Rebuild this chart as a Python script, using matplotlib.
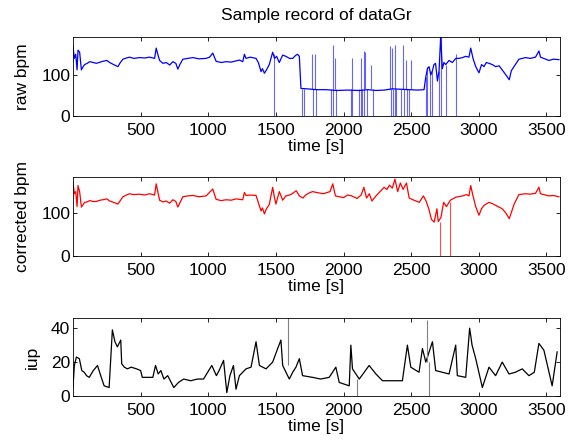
import numpy as np
import matplotlib
matplotlib.use('Agg')
import matplotlib.pyplot as plt

plt.rcParams['font.family'] = ['Liberation Sans', 'DejaVu Sans']

# raw heart rate (bpm)
raw_t = [0, 10, 20, 30, 37, 49, 62, 75, 86, 105, 123, 150, 172, 200, 221, 250, 271, 300, 332,
         350, 369, 395, 418, 450, 492, 530, 566, 590, 603, 615, 627, 640, 665, 689, 715, 738,
         760, 775, 790, 812, 850, 886, 930, 984, 1010, 1033, 1058, 1095, 1132, 1170, 1205,
         1230, 1255, 1267, 1279, 1310, 1353, 1370, 1390, 1400, 1415, 1430, 1451, 1476, 1490,
         1505, 1525, 1550, 1574, 1600, 1624, 1645, 1660, 1673, 1685, 1730, 1800, 1870, 1950,
         2030, 2116, 2180, 2240, 2300, 2360, 2420, 2485, 2550, 2595, 2608, 2620, 2632, 2645,
         2657, 2668, 2680, 2694, 2706, 2718, 2730, 2742, 2755, 2780, 2804, 2830, 2854, 2880,
         2903, 2927, 2940, 2957, 2977, 3001, 3020, 3038, 3055, 3075, 3100, 3124, 3150, 3173,
         3200, 3225, 3240, 3260, 3296, 3320, 3346, 3380, 3419, 3444, 3456, 3480, 3518, 3550,
         3592]
raw_v = [169, 140, 150, 112, 160, 155, 112, 120, 125, 128, 132, 130, 128, 131, 133, 135, 130, 125, 120,
         130, 138, 141, 143, 140, 142, 141, 143, 141, 140, 165, 150, 135, 128, 130, 124, 132,
         128, 114, 125, 138, 140, 142, 139, 140, 143, 153, 133, 130, 132, 131, 134,
         136, 132, 150, 140, 143, 140, 130, 108, 115, 104, 112, 125, 155, 140,
         145, 130, 148, 145, 140, 140, 147, 150, 145, 67, 66, 64, 64, 62,
         63, 62, 64, 62, 63, 66, 65, 64, 63, 64, 95, 115, 120, 100,
         110, 125, 128, 85, 110, 193, 115, 130, 125, 135, 130, 140, 140, 142,
         145, 143, 165, 140, 120, 105, 125, 120, 130, 128, 125, 120, 122, 112,
         100, 88, 110, 120, 138, 140, 142, 140, 143, 158, 143, 140, 135, 138,
         137]
# drop-outs to zero (time, level before the drop)
raw_drop_t = [1483, 1690, 1710, 1771, 1796, 1906, 1924, 1943, 2054, 2066, 2116, 2128, 2140, 2153,
              2177, 2214, 2349, 2362, 2381, 2391, 2423, 2448, 2472, 2485, 2608, 2620, 2637, 2657,
              2706, 2720, 2755, 2830]
raw_drop_v = [150, 65, 65, 65, 65, 65, 65, 65, 65, 65, 65, 65, 65, 65,
              65, 65, 65, 65, 65, 65, 65, 65, 65, 65, 95, 120, 110, 110,
              110, 193, 125, 150]
# upward spikes out of the low segment
raw_up_t = [1765, 1790, 1920, 1940, 2060, 2130, 2150, 2160, 2200, 2340, 2360, 2380, 2440, 2465, 2500]
raw_up_v = [150, 150, 173, 140, 140, 140, 157, 155, 125, 169, 165, 173, 173, 135, 135]

# corrected heart rate (bpm)
cor_t = [0, 10, 20, 30, 37, 49, 62, 86, 105, 123, 150, 172, 200, 221, 250, 271, 300, 332, 369,
         395, 418, 450, 492, 530, 566, 603, 615, 627, 640, 665, 689, 715, 738, 760, 775, 812,
         850, 886, 930, 984, 1033, 1058, 1095, 1132, 1170, 1205, 1255, 1267, 1279, 1310, 1353,
         1390, 1400, 1415, 1430, 1451, 1476, 1490, 1500, 1525, 1550, 1574, 1600, 1620, 1650,
         1673, 1700, 1720, 1740, 1770, 1800, 1850, 1900, 1920, 1940, 1970, 2000, 2030, 2060,
         2100, 2130, 2150, 2170, 2190, 2210, 2240, 2270, 2300, 2320, 2340, 2360, 2380, 2400,
         2420, 2440, 2465, 2485, 2520, 2560, 2590, 2610, 2630, 2650, 2670, 2690, 2700, 2720,
         2740, 2760, 2790, 2830, 2880, 2910, 2927, 2940, 2957, 2977, 3001, 3020, 3038, 3075,
         3100, 3124, 3173, 3200, 3225, 3260, 3296, 3346, 3380, 3419, 3444, 3456, 3518, 3550,
         3592]
cor_v = [171, 145, 150, 115, 164, 150, 114, 125, 126, 129, 127, 127, 130, 131, 133, 128, 125, 121, 138,
         142, 145, 143, 144, 142, 145, 142, 168, 150, 130, 126, 128, 123, 131, 127, 114, 138,
         140, 141, 138, 140, 156, 132, 129, 131, 130, 133, 131, 148, 141, 142, 141,
         105, 112, 98, 110, 120, 160, 135, 121, 150, 130, 140, 142, 145, 152,
         140, 135, 142, 146, 150, 148, 145, 150, 168, 140, 138, 136, 142, 140,
         134, 142, 160, 135, 145, 128, 140, 150, 160, 155, 165, 158, 179, 150,
         170, 155, 170, 135, 130, 125, 140, 128, 110, 85, 79, 110, 80, 90,
         125, 115, 130, 137, 140, 143, 140, 164, 140, 115, 95, 110, 118, 125,
         122, 118, 110, 100, 87, 120, 143, 145, 144, 146, 160, 145, 140, 141,
         138]
cor_drop_t = [2710, 2785]
cor_drop_v = [80, 125]

# intrauterine pressure
iup_t = [0, 10, 25, 47, 65, 83, 100, 120, 150, 181, 205, 230, 267, 291, 310, 328, 353, 360,
         380, 402, 430, 470, 500, 512, 560, 590, 610, 630, 650, 672, 700, 745, 780, 818, 870,
         920, 965, 1026, 1060, 1080, 1113, 1137, 1160, 1186, 1205, 1230, 1279, 1316, 1353,
         1378, 1427, 1476, 1513, 1537, 1550, 1599, 1624, 1648, 1673, 1697, 1771, 1830, 1894,
         1943, 1968, 2042, 2054, 2066, 2116, 2189, 2239, 2288, 2360, 2435, 2472, 2497, 2558,
         2583, 2608, 2657, 2681, 2730, 2780, 2829, 2841, 2903, 2932, 2950, 2977, 3026, 3075,
         3124, 3173, 3223, 3270, 3321, 3370, 3410, 3444, 3481, 3542, 3579]
iup_v = [5, 18, 23, 22, 15, 14, 12, 11, 15, 18, 12, 6, 5, 39, 32, 29, 33, 19,
         17, 16, 17, 16, 15, 11, 11, 11, 18, 13, 15, 10, 12, 5, 8, 10, 9,
         10, 10, 18, 12, 15, 21, 2, 12, 18, 4, 12, 16, 17, 32,
         18, 16, 20, 28, 33, 18, 10, 14, 17, 22, 12, 11, 10, 11,
         17, 8, 6, 30, 16, 10, 18, 13, 9, 9, 9, 30, 17, 14,
         28, 20, 32, 15, 14, 13, 30, 12, 11, 40, 30, 22, 5, 17,
         12, 20, 13, 14, 16, 12, 14, 31, 27, 6, 26]
iup_spike_t = [1587, 2103, 2620, 2632]
iup_spike_lo = [18, 0, 20, 0]
iup_spike_hi = [47, 10, 45, 20]

fig = plt.figure(figsize=(5.76, 4.46), dpi=100)
W, H = 576, 446
FS = 12.5


def make_ax(top, bottom):
    ax = fig.add_axes([73 / W, 1 - bottom / H, 487 / W, (bottom - top) / H])
    ax.set_xlim(0, 3600)
    ax.set_xticks([500, 1000, 1500, 2000, 2500, 3000, 3500])
    ax.tick_params(direction='in', top=True, right=True, labelsize=FS, length=3, width=0.6)
    ax.tick_params(axis='x', pad=5)
    ax.tick_params(axis='y', pad=2)
    for s in ax.spines.values():
        s.set_linewidth(0.6)
    ax.set_xlabel('time [s]', fontsize=FS, labelpad=1)
    return ax


ax1 = make_ax(37, 116)
ax1.plot(raw_t, raw_v, color='blue', lw=0.9)
ax1.vlines(raw_drop_t, 0, raw_drop_v, color='blue', lw=0.8, alpha=0.6)
ax1.vlines(raw_up_t, 65, raw_up_v, color='blue', lw=0.8, alpha=0.6)
ax1.set_ylim(0, 192)
ax1.set_yticks([0, 100])
ax1.set_ylabel('raw bpm', fontsize=FS, labelpad=8)
ax1.set_title('Sample record of dataGr', fontsize=FS, pad=12)

ax2 = make_ax(177, 256)
ax2.plot(cor_t, cor_v, color='red', lw=0.9)
ax2.vlines(cor_drop_t, 0, cor_drop_v, color='red', lw=0.8, alpha=0.7)
ax2.set_ylim(0, 184)
ax2.set_yticks([0, 100])
ax2.set_ylabel('corrected bpm', fontsize=FS, labelpad=8)

ax3 = make_ax(318, 396)
ax3.plot(iup_t, iup_v, color='black', lw=0.9)
ax3.vlines(iup_spike_t, iup_spike_lo, iup_spike_hi, color='gray', lw=0.8)
ax3.set_ylim(0, 46)
ax3.set_yticks([0, 20, 40])
ax3.set_ylabel('iup', fontsize=FS, labelpad=8)

fig.savefig('out.png', dpi=100)
